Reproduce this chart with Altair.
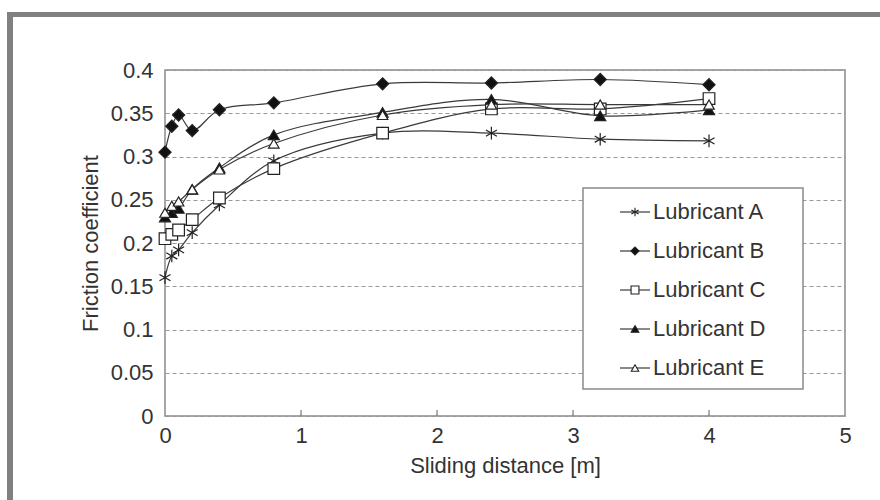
import altair as alt
import pandas as pd

# ---- data ----
distance = [0, 0.05, 0.1, 0.2, 0.4, 0.8, 1.6, 2.4, 3.2, 4.0]
names = ["Lubricant A", "Lubricant B", "Lubricant C", "Lubricant D", "Lubricant E"]
lub_a = [0.160, 0.185, 0.192, 0.212, 0.244, 0.295, 0.327, 0.327, 0.320, 0.318]
lub_b = [0.305, 0.335, 0.348, 0.330, 0.354, 0.362, 0.384, 0.385, 0.389, 0.383]
lub_c = [0.205, 0.210, 0.215, 0.227, 0.252, 0.286, 0.327, 0.355, 0.355, 0.367]
lub_d = [0.230, 0.235, 0.240, 0.262, 0.287, 0.325, 0.351, 0.366, 0.347, 0.354]
lub_e = [0.235, 0.243, 0.248, 0.262, 0.285, 0.315, 0.348, 0.360, 0.360, 0.360]
x_ticks = [0, 1, 2, 3, 4, 5]
y_ticks = [0, 0.05, 0.1, 0.15, 0.2, 0.25, 0.3, 0.35, 0.4]
inner_ticks = [1, 2, 3, 4]

series = [lub_a, lub_b, lub_c, lub_d, lub_e]
rows = []
for n, vals in zip(names, series):
    for d, v in zip(distance, vals):
        rows.append({"name": n, "dist": d, "mu": v})
df = pd.DataFrame(rows)
leg_df = pd.DataFrame({"name": names})
one = pd.DataFrame({"k": [0]})
tick_df = pd.DataFrame({"t": inner_ticks})

W, H = 680, 346
LEFT, TOP = 165, 70
FONT = "Liberation Sans"
TXT = "#333333"
FS = 22

asterisk = "M0,-1L0,1M-0.87,-0.5L0.87,0.5M-0.87,0.5L0.87,-0.5"
shape_scale = alt.Scale(domain=names, range=[asterisk, "diamond", "square", "triangle-up", "triangle-up"])
fill_scale = alt.Scale(domain=names, range=["#ffffff", "#111111", "#ffffff", "#111111", "#ffffff"])
size_scale = alt.Scale(domain=names, range=[160, 110, 100, 120, 120])
leg_size_scale = alt.Scale(domain=names, range=[70, 55, 50, 60, 60])

xs = alt.Scale(domain=[0, 5], nice=False)
ys = alt.Scale(domain=[0, 0.4], nice=False)

lines = alt.Chart(df).mark_line(interpolate="catmull-rom", color="#3a3a3a", strokeWidth=1.2).encode(
    x=alt.X("dist:Q", scale=xs,
            axis=alt.Axis(values=x_ticks, format="~g", title="Sliding distance [m]", grid=False, ticks=False,
                          domain=False, labelFontSize=FS, labelPadding=9, labelColor=TXT,
                          labelFont=FONT, titleFont=FONT, titleFontSize=FS, titleColor=TXT,
                          titleFontWeight="normal", titlePadding=9, labelFlush=False)),
    y=alt.Y("mu:Q", scale=ys,
            axis=alt.Axis(values=y_ticks, format="~g", title="Friction coefficient", grid=True,
                          gridDash=[4, 3], gridColor="#999999", gridWidth=1, ticks=False,
                          domain=False, labelFontSize=FS, labelPadding=12, labelColor=TXT,
                          labelFont=FONT, titleFont=FONT, titleFontSize=FS, titleColor=TXT,
                          titleFontWeight="normal", titlePadding=8)),
    detail="name:N",
)

points = alt.Chart(df).mark_point(filled=True, stroke="#222222", strokeWidth=1.2, opacity=1).encode(
    x=alt.X("dist:Q", scale=xs),
    y=alt.Y("mu:Q", scale=ys, axis=None),
    shape=alt.Shape("name:N", scale=shape_scale, legend=None),
    fill=alt.Fill("name:N", scale=fill_scale, legend=None),
    size=alt.Size("name:N", scale=size_scale, legend=None),
)

ticks = alt.Chart(tick_df).mark_rule(color="#777777", strokeWidth=1.2).encode(
    x=alt.X("t:Q", scale=xs),
    y=alt.value(H),
    y2=alt.value(H - 6),
)

leg_box = alt.Chart(one).mark_rect(fill="white", stroke="#8a8a8a", strokeWidth=1.5).encode(
    x=alt.value(418), x2=alt.value(638), y=alt.value(118), y2=alt.value(319)
)

leg_y = alt.Y("name:N", scale=alt.Scale(type="point", domain=names, range=[142, 298], padding=0), axis=None)

leg_lines = alt.Chart(leg_df).mark_rule(color="#3a3a3a", strokeWidth=1.2).encode(
    x=alt.value(455), x2=alt.value(485), y=leg_y
)
leg_pts = alt.Chart(leg_df).mark_point(filled=True, stroke="#222222", strokeWidth=1.1, opacity=1).encode(
    x=alt.value(470), y=leg_y,
    shape=alt.Shape("name:N", scale=shape_scale, legend=None),
    fill=alt.Fill("name:N", scale=fill_scale, legend=None),
    size=alt.Size("name:N", scale=leg_size_scale, legend=None),
)
leg_txt = alt.Chart(leg_df).mark_text(align="left", baseline="middle", fontSize=FS, font=FONT, color=TXT).encode(
    x=alt.value(488), y=leg_y, text="name:N"
)

frame_top = alt.Chart(one).mark_rule(color="#808080", strokeWidth=5).encode(
    x=alt.value(7 - LEFT), x2=alt.value(880 - LEFT), y=alt.value(14.5 - TOP)
)
frame_left = alt.Chart(one).mark_rule(color="#808080", strokeWidth=6).encode(
    x=alt.value(10 - LEFT), y=alt.value(12 - TOP), y2=alt.value(500 - TOP)
)

chart = alt.layer(
    lines, points, ticks, leg_box, leg_lines, leg_pts, leg_txt, frame_top, frame_left
).resolve_scale(y="independent", size="independent").properties(
    width=W, height=H,
    padding={"left": LEFT, "top": TOP, "right": 880 - LEFT - W, "bottom": 500 - TOP - H},
    autosize=alt.AutoSizeParams(type="none"),
    background="white",
).configure_view(stroke="#8a8a8a", strokeWidth=1.5)

chart.save("out.html", embed_options={"renderer": "svg", "actions": False})
